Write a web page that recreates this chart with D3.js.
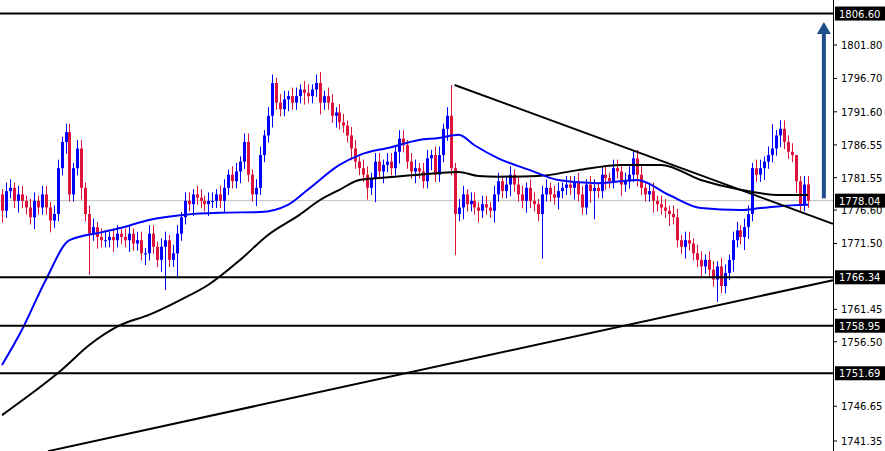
<!DOCTYPE html><html><head><meta charset="utf-8">
<script src="https://cdn.jsdelivr.net/npm/d3@7"></script>
<style>body{margin:0;background:#fff}svg{display:block}</style></head><body>
<svg id="c" width="885" height="451"></svg>
<script>
const closes=[1776.5,1779.5,1780,1778,1779,1778,1777,1775.5,1778,1777,
1779,1777,1775,1776,1783,1787,1788.5,1779,1783,1786,
1780,1776,1773,1774,1772.5,1772,1772,1772.5,1772,1773,
1772.5,1772,1773,1771.5,1772,1770,1770,1773,1771,1769,
1771,1772,1769,1770,1773,1775.5,1778,1777.5,1779,1778.5,
1778,1777.5,1778,1778,1779,1778,1780,1782,1781,1782.5,
1784,1787,1782,1779,1780,1785,1788,1791,1796,1793,
1792,1793.5,1794,1793,1794,1795,1794.5,1794,1795,1796,
1793,1794,1793,1791,1791.5,1790,1789.5,1788,1786,1784,
1783,1782,1780,1781.5,1784,1782.5,1783.5,1784,1783,1785.5,
1787.5,1786.5,1784,1782.5,1783,1782.5,1781,1784.5,1785,1782,
1785,1789,1791,1783,1776,1777,1779,1777.5,1778,1777,
1776.5,1777.5,1777,1776.5,1779,1781,1779.5,1780.5,1782,1780.5,
1779,1778,1780,1778,1777.5,1776,1779,1780,1779,1778.5,
1779.5,1780,1780.5,1780,1781,1779,1777,1780.5,1779.5,1780,
1779.5,1782,1781.5,1781,1783,1782.5,1780.5,1781,1782,1784.5,
1782,1780,1779,1779.5,1778,1777.5,1777,1776.5,1776,1775.5,
1772,1771,1772,1771.5,1770,1769,1768,1769,1767.5,1766,
1768,1765,1767,1769,1772,1773.5,1772.5,1774,1776,1783,
1782,1783,1784,1785,1786,1788,1789,1787,1785.5,1785,
1781,1777.5,1780.5,1778];
const firstOpen=1779;
const longWicks=[{i:22,low:1766.7},{i:41,low:1764.4},{i:44,low:1766.2},{i:80,high:1797.7},{i:94,low:1777.8},
{i:113,high:1795.7},{i:114,low:1769.7},{i:136,low:1769.2},{i:149,low:1775.2},{i:159,high:1785.6},
{i:180,low:1762.6},{i:187,low:1770.5},{i:194,high:1789.7},{i:198,high:1788},{i:200,high:1785}];
const blueMA=[[0,1752.95],[5,1758.3],[11,1765.9],[17,1772.0],[25,1773.2],[30,1773.9],[37,1775.1],[46,1775.9],[55,1776.2],[65,1776.3],[72,1777.4],[77,1779.7],[85,1783.5],[90,1785.0],[98,1786.2],[105,1787.3],[110,1787.6],[115,1788.1],[119,1786.5],[125,1784.5],[133,1782.7],[140,1781.2],[150,1780.7],[160,1781.2],[168,1778.9],[176,1776.9],[186,1776.6],[191,1776.9],[196,1777.2],[203,1777.4]];
const blackMA=[[0,1745.3],[7,1748.4],[15,1752.2],[22,1756.0],[30,1759.1],[37,1760.6],[45,1762.9],[52,1765.2],[60,1769.0],[67,1772.8],[75,1775.9],[80,1778.1],[85,1779.7],[90,1781.2],[95,1781.5],[105,1782.0],[115,1782.4],[120,1781.8],[125,1781.7],[135,1781.8],[145,1782.7],[156,1783.5],[166,1783.5],[176,1781.2],[186,1779.7],[196,1778.9],[203,1778.9]];
const hLevels=[1806.60,1766.34,1758.95,1751.69];
const currentPrice=1778.04;
const tickLabels=[1801.80,1796.70,1791.60,1786.55,1781.55,1776.60,1771.50,1761.45,1756.50,1746.65,1741.35];
const boxLabels=[1806.60,1778.04,1766.34,1758.95,1751.69];
const trendDown=[[114,1795.7],[209.3,1774.5]];
const trendUp=[[11.6,1739.8],[209.3,1765.9]];
const arrowIdx=207, arrowFrom=1778.4, arrowTo=1805.3;

const svg=d3.select("#c"), W=833;
const x=d3.scaleLinear().domain([0,209.3]).range([2,W]);
const y=d3.scaleLinear().domain([1801.8,1741.35]).range([45,441]);
const plot=svg.append("g");
plot.append("line").attr("x1",0).attr("x2",W).attr("y1",y(currentPrice)).attr("y2",y(currentPrice)).attr("stroke","#c0c0c0").attr("stroke-width",1);
const wmap={};longWicks.forEach(w=>wmap[w.i]=w);
closes.forEach((c,i)=>{
  const o=i?closes[i-1]:firstOpen, up=c>=o, col=up?"#0000ff":"#dc143c";
  let hi=Math.max(o,c)+(i%3?1.3:0.8), lo=Math.min(o,c)-(i%4?1.1:1.8);
  if(wmap[i]){if(wmap[i].high)hi=wmap[i].high;if(wmap[i].low)lo=wmap[i].low;}
  const cx=Math.round(x(i))+0.5;
  plot.append("line").attr("x1",cx).attr("x2",cx).attr("y1",y(hi)).attr("y2",y(lo)).attr("stroke",col).attr("stroke-width",1);
  const t=y(Math.max(o,c)), b=y(Math.min(o,c));
  plot.append("rect").attr("x",cx-1.5).attr("width",3).attr("y",t).attr("height",Math.max(1,b-t)).attr("fill",col);
});
const ln=d3.line().x(d=>x(d[0])).y(d=>y(d[1])).curve(d3.curveMonotoneX);
plot.append("path").attr("d",ln(blackMA)).attr("fill","none").attr("stroke","#000").attr("stroke-width",2);
plot.append("path").attr("d",ln(blueMA)).attr("fill","none").attr("stroke","#0000ff").attr("stroke-width",2);
const sl=d3.line().x(d=>x(d[0])).y(d=>y(d[1]));
[trendDown,trendUp].forEach(t=>plot.append("path").attr("d",sl(t)).attr("stroke","#000").attr("stroke-width",2).attr("fill","none"));
hLevels.forEach(h=>plot.append("line").attr("x1",0).attr("x2",W).attr("y1",y(h)).attr("y2",y(h)).attr("stroke","#000").attr("stroke-width",2));
const ax=x(arrowIdx);
plot.append("line").attr("x1",ax).attr("x2",ax).attr("y1",y(arrowFrom)).attr("y2",y(arrowTo)+10).attr("stroke","#1f4e8c").attr("stroke-width",4);
plot.append("path").attr("d",`M${ax-7},${y(arrowTo)+12}L${ax},${y(arrowTo)}L${ax+7},${y(arrowTo)+12}Z`).attr("fill","#1f4e8c");
svg.append("line").attr("x1",W+0.5).attr("x2",W+0.5).attr("y1",0).attr("y2",451).attr("stroke","#000");
const axg=svg.append("g").attr("font-family","DejaVu Sans").attr("font-size",10);
tickLabels.forEach(v=>{
  axg.append("line").attr("x1",W).attr("x2",W+4).attr("y1",y(v)).attr("y2",y(v)).attr("stroke","#000");
  axg.append("text").attr("x",W+8).attr("y",y(v)+4).text(v.toFixed(2));
});
boxLabels.forEach(v=>{
  axg.append("rect").attr("x",W+2).attr("y",y(v)-7).attr("width",50).attr("height",14).attr("fill","#000");
  axg.append("text").attr("x",W+6).attr("y",y(v)+4).attr("fill","#fff").text(v.toFixed(2));
});
</script></body></html>
